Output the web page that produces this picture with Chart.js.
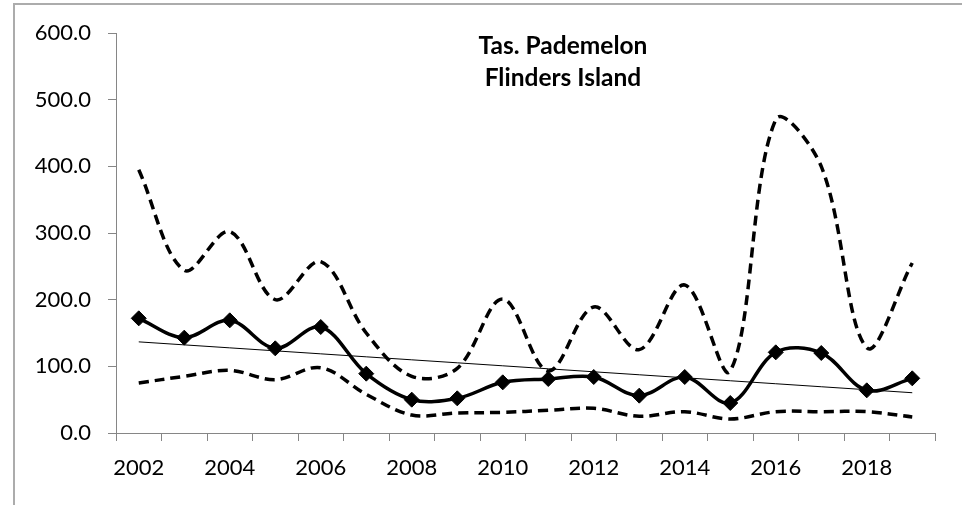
<!DOCTYPE html>
<html>
<head>
<meta charset="utf-8">
<script src="https://cdn.jsdelivr.net/npm/chart.js@4"></script>
<style>
  html, body { margin: 0; padding: 0; background: #ffffff; }
  #wrap { position: relative; width: 962px; height: 505px; overflow: hidden; background: #ffffff; }
  #frame { position: absolute; left: 13px; top: 3px; width: 1000px; height: 600px;
           border-left: 2px solid #acacac; border-top: 2px solid #acacac; pointer-events: none; z-index: 2; }
  canvas { position: absolute; left: 0; top: 0; }
  #title { position: absolute; left: 413px; width: 300px; top: 29px; text-align: center;
           font-family: Lato, "Noto Sans", sans-serif; font-weight: bold; font-size: 24.5px;
           line-height: 32px; color: #000; z-index: 3; }
</style>
</head>
<body>
<div id="wrap">
  <canvas id="c" width="962" height="505"></canvas>
  <div id="frame"></div>
  <div id="title">Tas. Pademelon<br>Flinders Island</div>
</div>
<script>
// ---- data ----
const years = ['2002','2003','2004','2005','2006','2007','2008','2009','2010',
               '2011','2012','2013','2014','2015','2016','2017','2018','2019'];
const meanValues  = [172, 143, 169, 127, 159, 89, 50, 52, 76, 81, 84, 56, 84, 45, 121, 120, 64, 82];
const upperValues = [395, 244, 302, 200, 257, 150, 85, 97, 201, 93, 189, 125, 222, 93, 470, 400, 128, 255];
const lowerValues = [75, 85, 94, 80, 98, 58, 27, 30, 31, 34, 37, 25, 32, 21, 32, 32, 32, 24];
const yMin = 0, yMax = 600, yStep = 100;
const xLabelEvery = 2;

// linear trendline (least squares) of the mean series
function linearTrend(vals) {
  const n = vals.length;
  const mx = (n - 1) / 2;
  const my = vals.reduce((a, b) => a + b, 0) / n;
  let sxy = 0, sxx = 0;
  vals.forEach((v, i) => { sxy += (i - mx) * (v - my); sxx += (i - mx) * (i - mx); });
  const slope = sxy / sxx;
  return vals.map((_, i) => my + slope * (i - mx));
}
const trendValues = linearTrend(meanValues);

const tickFont = { family: 'Lato, "Noto Sans", sans-serif', size: 22 };
const axisGray = '#868686';

new Chart(document.getElementById('c'), {
  type: 'line',
  data: {
    labels: years,
    datasets: [
      { data: lowerValues, borderColor: '#000', borderWidth: 3.5, borderDash: [10, 6],
        pointRadius: 0, tension: 0.35, fill: false },
      { data: upperValues, borderColor: '#000', borderWidth: 3.5, borderDash: [10, 6],
        pointRadius: 0, tension: 0.35, fill: false },
      { data: meanValues, borderColor: '#000', borderWidth: 3.5,
        pointStyle: 'rectRot', pointRadius: 7.5, pointBackgroundColor: '#000', pointBorderColor: '#000',
        pointBorderWidth: 1, tension: 0.35, fill: false },
      { data: trendValues, borderColor: '#000', borderWidth: 1, pointRadius: 0, tension: 0, fill: false }
    ]
  },
  options: {
    responsive: false,
    animation: false,
    events: [],
    layout: { padding: { top: 33, right: 27, left: 0, bottom: 0 } },
    plugins: { legend: { display: false }, tooltip: { enabled: false }, title: { display: false } },
    scales: {
      x: {
        type: 'category',
        offset: true,
        grid: { offset: true, drawOnChartArea: false, drawTicks: true, tickLength: 8, color: axisGray, lineWidth: 1 },
        border: { color: axisGray, width: 1 },
        ticks: {
          autoSkip: false, maxRotation: 0, minRotation: 0, padding: 14, color: '#000', font: tickFont,
          callback: function (v, i) { return i % xLabelEvery === 0 ? years[i] : ''; }
        },
        afterFit: function (s) { s.height = 72; }
      },
      y: {
        min: yMin, max: yMax,
        grid: { drawOnChartArea: false, drawTicks: true, tickLength: 8, color: axisGray, lineWidth: 1 },
        border: { color: axisGray, width: 1 },
        ticks: { stepSize: yStep, padding: 17, color: '#000', font: tickFont,
                 callback: function (v) { return Number(v).toFixed(1); } },
        afterFit: function (s) { s.width = 116; }
      }
    }
  }
});
</script>
</body>
</html>
